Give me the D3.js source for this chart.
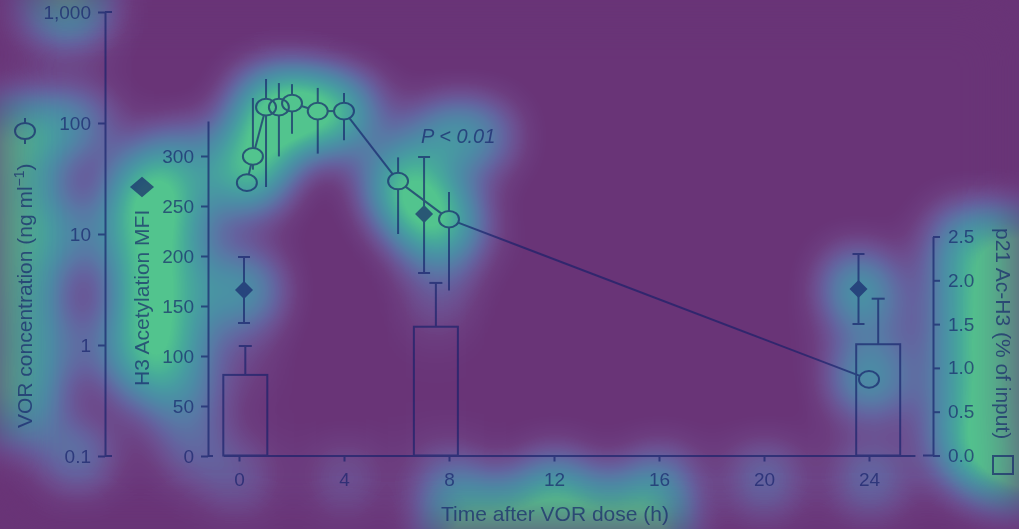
<!DOCTYPE html>
<html>
<head>
<meta charset="utf-8">
<script src="https://cdn.jsdelivr.net/npm/d3@7"></script>
<style>
  body { margin: 0; background: #693477; }
  svg { display: block; font-family: "Liberation Sans", Arial, Helvetica, sans-serif; }
</style>
</head>
<body>
<svg width="1019" height="529"></svg>
<script>
// ---- data ----
// VOR plasma concentration (open circles, log axis)
const vorTimes = [0.3, 0.53, 1.03, 1.52, 2.02, 3.0, 4.0, 6.06, 8.0, 24.0];
const vorConc  = [29, 50, 139, 139, 151, 128, 128, 30, 13.6, 0.49];
const vorHi    = [null, 168, 249, 229, 224, 207, 186, 49, 23.9, null];
const vorLo    = [null, 38, 26.5, 50, 80, 53, 70, 10, 3.1, null];

// H3 acetylation MFI (filled diamonds)
const mfiTimes = [0.19, 7.05, 23.6];
const mfiVals  = [166, 242, 167];
const mfiHi    = [199, 299, 202];
const mfiLo    = [133, 183, 132];

// p21 Ac-H3 % of input (open bars)
const p21Times = [0.24, 7.5, 24.35];
const p21Vals  = [0.92, 1.47, 1.27];
const p21Hi    = [1.25, 1.97, 1.79];

// ticks
const timeTicks = [0, 4, 8, 12, 16, 20, 24];
const concTicks = [0.1, 1, 10, 100, 1000];
const mfiTicks  = [0, 50, 100, 150, 200, 250, 300];
const p21Ticks  = [0, 0.5, 1.0, 1.5, 2.0, 2.5];

const W = 1019, H = 529;
const svg = d3.select("svg");

// scales
const x = d3.scaleLinear().domain([0, 24]).range([239, 869]);
const xAxisScale = x.copy().domain([-0.6, 25.75]).range([x(-0.6), x(25.75)]);
const yConc = d3.scaleLog().domain([0.1, 1000]).range([456, 12]);
const mfiTop = 335;  // axis line runs a bit above the last tick
const yMfi = d3.scaleLinear().domain([0, mfiTop]).range([456, 121]);
const yP21 = d3.scaleLinear().domain([0, 2.5]).range([455.5, 236.5]);

const xConcAxis = 105, xMfiAxis = 208, xP21Axis = 933;
const rx = 10, ry = 8.3;         // open circle size
const dw = 9;                    // diamond half size
const barW = 44;

// heat overlay filter: blur a white copy of the chart, lift it, map to colours
const defs = svg.append("defs");
const f = defs.append("filter").attr("id", "heat")
  .attr("filterUnits", "userSpaceOnUse")
  .attr("x", 0).attr("y", 0).attr("width", W).attr("height", H)
  .attr("color-interpolation-filters", "sRGB");
f.append("feGaussianBlur").attr("stdDeviation", 28);
const amp = f.append("feComponentTransfer");
["R", "G", "B"].forEach(c => amp.append("feFunc" + c)
  .attr("type", "gamma").attr("amplitude", 1.8).attr("exponent", 0.75).attr("offset", -0.06));
const cmap = f.append("feComponentTransfer");
cmap.append("feFuncR").attr("type", "table").attr("tableValues", ".412 .424 .424 .392 .345 .300 .282 .282 .322");
cmap.append("feFuncG").attr("type", "table").attr("tableValues", ".204 .243 .314 .392 .478 .545 .608 .680 .769");
cmap.append("feFuncB").attr("type", "table").attr("tableValues", ".467 .502 .569 .627 .651 .650 .635 .600 .557");

const heat = svg.append("g").attr("filter", "url(#heat)");
heat.append("rect").attr("width", W).attr("height", H).attr("fill", "#000");
const glow = heat.append("g");

const ink = svg.append("g").attr("color", "#15206a").attr("opacity", 0.66);

// ---- axes ----
const styleAxis = g => {
  g.attr("font-size", 19).attr("font-family", null);
  g.selectAll("path, line").attr("stroke-width", 2);
};

ink.append("g").attr("transform", `translate(${xConcAxis},0)`)
  .call(d3.axisLeft(yConc).tickValues(concTicks).tickFormat(d3.format(","))
    .tickSize(7).tickSizeOuter(0).tickPadding(7))
  .call(styleAxis);
// end caps on the log axis
ink.append("g").selectAll("line").data([0.1, 1000]).join("line")
  .attr("x1", xConcAxis).attr("x2", xConcAxis + 7)
  .attr("y1", d => yConc(d)).attr("y2", d => yConc(d))
  .attr("stroke", "currentColor").attr("stroke-width", 2);

ink.append("g").attr("transform", `translate(${xMfiAxis},0)`)
  .call(d3.axisLeft(yMfi).tickValues(mfiTicks).tickSize(7).tickSizeOuter(0).tickPadding(7))
  .call(styleAxis);
ink.append("line")
  .attr("x1", xMfiAxis).attr("x2", xMfiAxis + 5)
  .attr("y1", yMfi(0)).attr("y2", yMfi(0))
  .attr("stroke", "currentColor").attr("stroke-width", 2);

ink.append("g").attr("transform", `translate(${xP21Axis},0)`)
  .call(d3.axisRight(yP21).tickValues(p21Ticks).tickFormat(d3.format(".1f"))
    .tickSize(7).tickSizeOuter(0).tickPadding(8))
  .call(styleAxis);
ink.append("line")
  .attr("x1", xP21Axis - 10).attr("x2", xP21Axis)
  .attr("y1", yP21(0)).attr("y2", yP21(0))
  .attr("stroke", "currentColor").attr("stroke-width", 2);

ink.append("g").attr("transform", `translate(0,${yP21(0)})`)
  .call(d3.axisBottom(xAxisScale).tickValues(timeTicks).tickSize(6).tickSizeOuter(0).tickPadding(11))
  .call(styleAxis);

// ---- axis titles ----
const titles = ink.append("g").attr("fill", "currentColor").attr("font-size", 21);

const vorT = titles.append("text").attr("transform", "translate(32,428) rotate(-90)");
vorT.append("tspan").text("VOR concentration (ng ml");
vorT.append("tspan").attr("font-size", 14).attr("dy", -8).text("\u22121");
vorT.append("tspan").attr("dy", 8).text(")");

titles.append("text").attr("transform", "translate(149,386) rotate(-90)")
  .text("H3 Acetylation MFI");

titles.append("text").attr("transform", "translate(996,228) rotate(90)")
  .text("p21 Ac-H3 (% of input)");

titles.append("text").attr("x", 555).attr("y", 521).attr("text-anchor", "middle")
  .text("Time after VOR dose (h)");

titles.append("text").attr("x", 421).attr("y", 143).attr("font-size", 20)
  .attr("font-style", "italic").text("P < 0.01");

// legend symbols next to titles
const sym = ink.append("g").attr("stroke", "currentColor").attr("stroke-width", 2).attr("fill", "none");
sym.append("ellipse").attr("class", "mark").attr("cx", 25).attr("cy", 131).attr("rx", 10).attr("ry", 8);
sym.append("line").attr("x1", 25).attr("x2", 25).attr("y1", 118).attr("y2", 123);
sym.append("line").attr("x1", 25).attr("x2", 25).attr("y1", 139).attr("y2", 144);
sym.append("path").attr("class", "mark").attr("fill", "currentColor")
  .attr("d", "M142,178L152.5,187L142,196L131.5,187Z");
sym.append("rect").attr("class", "mark").attr("x", 993).attr("y", 456).attr("width", 20).attr("height", 18);

// ---- bars (p21, right axis) ----
const bars = ink.append("g").attr("stroke", "currentColor").attr("stroke-width", 2).attr("fill", "none");
const barData = p21Times.map((t, i) => ({ t, v: p21Vals[i], hi: p21Hi[i] }));
bars.selectAll("rect").data(barData).join("rect")
  .attr("x", d => x(d.t) - barW / 2).attr("width", barW)
  .attr("y", d => yP21(d.v)).attr("height", d => yP21(0) - yP21(d.v));
bars.selectAll("line.err").data(barData).join("line").attr("class", "err")
  .attr("x1", d => x(d.t)).attr("x2", d => x(d.t))
  .attr("y1", d => yP21(d.v)).attr("y2", d => yP21(d.hi));
bars.selectAll("line.cap").data(barData).join("line").attr("class", "cap")
  .attr("x1", d => x(d.t) - 6.5).attr("x2", d => x(d.t) + 6.5)
  .attr("y1", d => yP21(d.hi)).attr("y2", d => yP21(d.hi));

// ---- VOR concentration (open circles, connected) ----
const vor = vorTimes.map((t, i) => ({
  t, v: vorConc[i], hi: vorHi[i], lo: vorLo[i],
  cx: x(t), cy: yConc(vorConc[i])
}));
const edge = (dx, dy) => {
  const a = Math.atan2(dy, dx);
  return 1 / Math.sqrt((Math.cos(a) / rx) ** 2 + (Math.sin(a) / ry) ** 2);
};
const segs = d3.pairs(vor).map(([p, q]) => {
  const dx = q.cx - p.cx, dy = q.cy - p.cy, d = Math.hypot(dx, dy);
  const r = edge(dx, dy), ux = dx / d, uy = dy / d;
  return d > 2 * r ? [p.cx + ux * r, p.cy + uy * r, q.cx - ux * r, q.cy - uy * r] : null;
}).filter(s => s);

const circ = ink.append("g").attr("stroke", "currentColor").attr("stroke-width", 2).attr("fill", "none");
circ.selectAll("line.seg").data(segs).join("line").attr("class", "seg")
  .attr("x1", s => s[0]).attr("y1", s => s[1]).attr("x2", s => s[2]).attr("y2", s => s[3]);
circ.selectAll("line.up").data(vor.filter(d => d.hi != null)).join("line").attr("class", "up err")
  .attr("x1", d => d.cx).attr("x2", d => d.cx)
  .attr("y1", d => d.cy - ry).attr("y2", d => yConc(d.hi));
circ.selectAll("line.dn").data(vor.filter(d => d.lo != null)).join("line").attr("class", "dn err")
  .attr("x1", d => d.cx).attr("x2", d => d.cx)
  .attr("y1", d => d.cy + ry).attr("y2", d => yConc(d.lo));
circ.selectAll("ellipse").data(vor).join("ellipse").attr("class", "mark")
  .attr("cx", d => d.cx).attr("cy", d => d.cy).attr("rx", rx).attr("ry", ry);

// ---- H3 MFI (filled diamonds) ----
const mfi = mfiTimes.map((t, i) => ({ t, v: mfiVals[i], hi: mfiHi[i], lo: mfiLo[i] }));
const dia = ink.append("g").attr("stroke", "currentColor").attr("stroke-width", 2);
dia.selectAll("line.err").data(mfi).join("line").attr("class", "err")
  .attr("x1", d => x(d.t)).attr("x2", d => x(d.t))
  .attr("y1", d => yMfi(d.lo)).attr("y2", d => yMfi(d.hi));
dia.selectAll("line.caphi").data(mfi).join("line").attr("class", "caphi")
  .attr("x1", d => x(d.t) - 6).attr("x2", d => x(d.t) + 6)
  .attr("y1", d => yMfi(d.hi)).attr("y2", d => yMfi(d.hi));
dia.selectAll("line.caplo").data(mfi).join("line").attr("class", "caplo")
  .attr("x1", d => x(d.t) - 6).attr("x2", d => x(d.t) + 6)
  .attr("y1", d => yMfi(d.lo)).attr("y2", d => yMfi(d.lo));
dia.selectAll("path").data(mfi).join("path").attr("class", "mark")
  .attr("fill", "currentColor").attr("stroke", "none")
  .attr("d", d => {
    const cx = x(d.t), cy = yMfi(d.v);
    return `M${cx},${cy - dw}L${cx + dw},${cy}L${cx},${cy + dw}L${cx - dw},${cy}Z`;
  });

// ---- glow copy of the chart for the heat overlay ----
const copy = ink.node().cloneNode(true);
glow.node().appendChild(copy);
const gc = d3.select(copy).attr("opacity", null).attr("color", "#fff");
gc.selectAll("line, path, rect").attr("stroke-opacity", 0.3);
gc.selectAll("text").attr("stroke", "#fff").attr("stroke-width", 13).attr("stroke-linejoin", "round");
gc.selectAll(".mark").attr("fill", "#fff").attr("stroke", "#fff").attr("stroke-width", 24).attr("stroke-opacity", 1);
gc.selectAll(".err").attr("stroke-width", 7).attr("stroke-opacity", 1);
</script>
</body>
</html>
